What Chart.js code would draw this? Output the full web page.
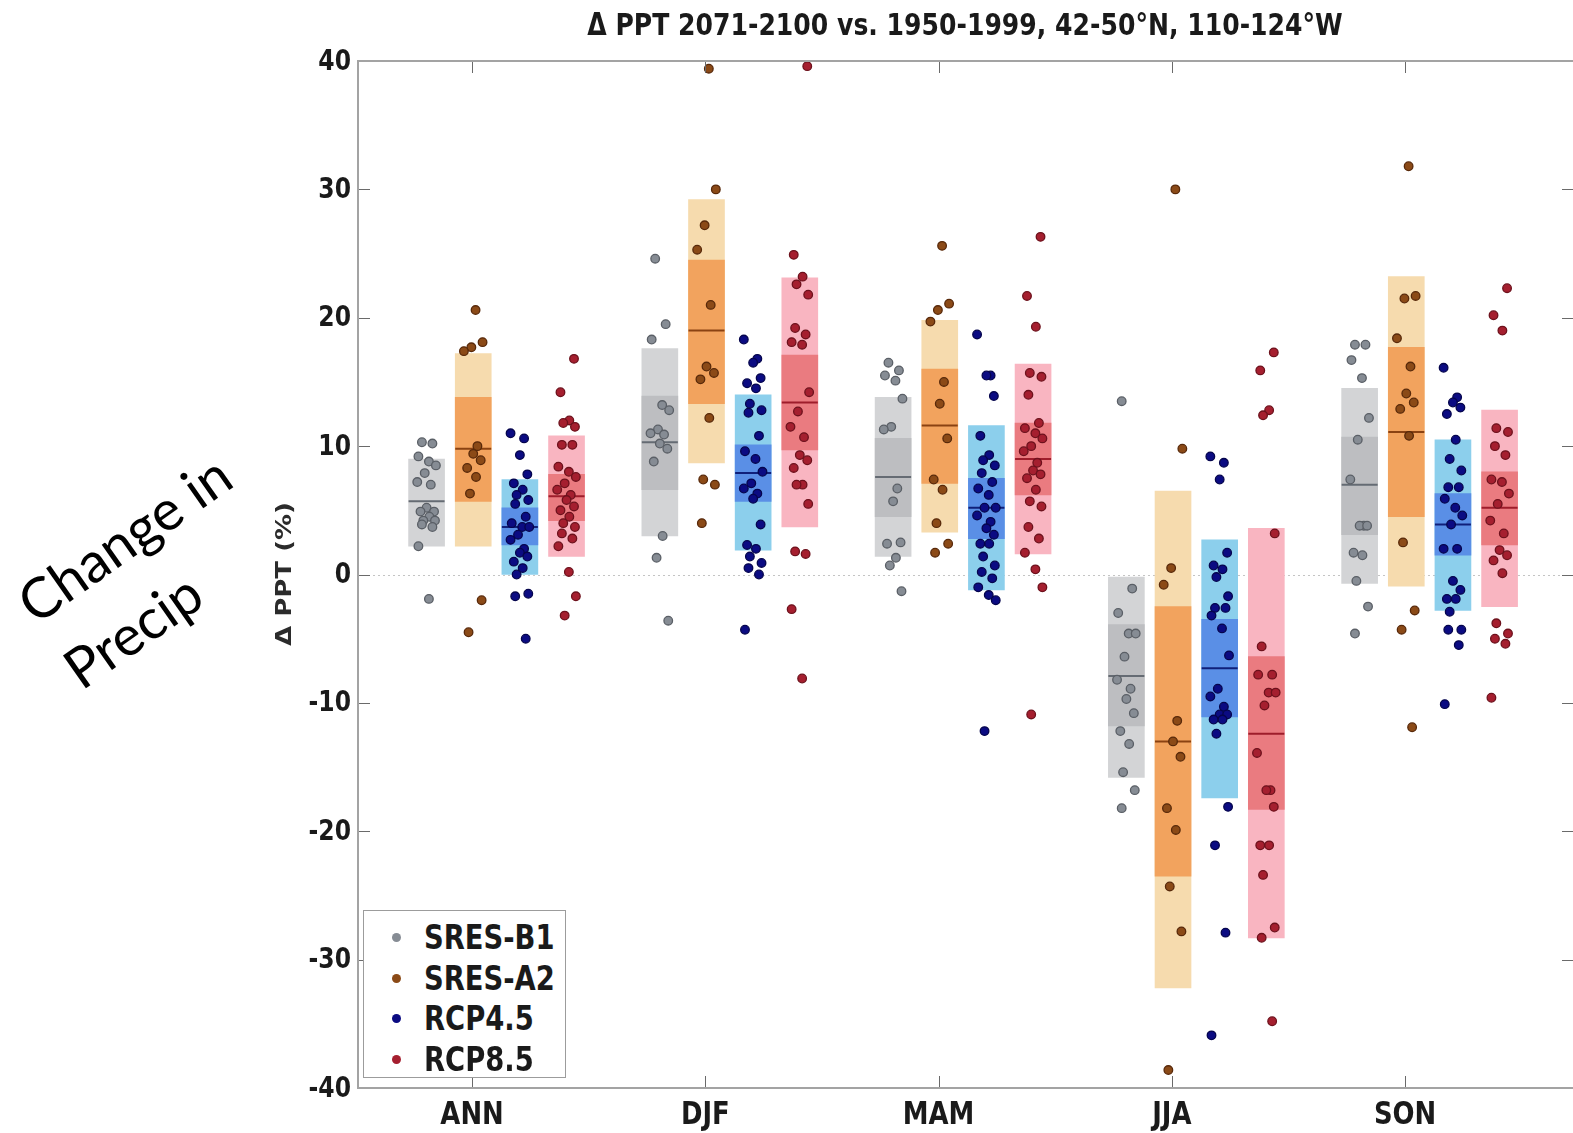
<!DOCTYPE html>
<html>
<head>
<meta charset="utf-8">
<script src="https://cdn.jsdelivr.net/npm/chart.js@4.4.1/dist/chart.umd.min.js"></script>
<style>
  html, body { margin: 0; padding: 0; background: #fff; overflow: hidden; }
  #wrap { position: relative; width: 1573px; height: 1133px; overflow: hidden; background: #fff; }
  #c { position: absolute; left: 0; top: 0; }
  .title {
    position: absolute; left: 965px; top: 9px; white-space: nowrap;
    font: bold 31px "DejaVu Sans"; line-height: 31px; color: #1a1a1a;
    transform: translateX(-50%) scaleX(0.81);
  }
  .ylab {
    position: absolute; left: 284px; top: 574px; white-space: nowrap;
    font: bold 26px "DejaVu Sans"; line-height: 26px; color: #2b2b2b;
    transform: translate(-50%, -50%) rotate(-90deg) scaleY(0.81);
  }
  .note {
    position: absolute; left: 147px; top: 571px; white-space: pre;
    font: 56px Lato, "Open Sans", sans-serif; line-height: 80px; color: #000;
    text-align: left; transform: translate(-50%, -50%) rotate(-35deg);
  }
  .legend {
    position: absolute; left: 363px; top: 910px; width: 201px; height: 166px;
    border: 1.5px solid #9c9c9c; background: #fff;
  }
  .legend .row { position: absolute; left: 0; height: 40px; width: 200px; }
  .legend .dot {
    position: absolute; left: 28px; top: 15px; width: 9px; height: 9px; border-radius: 50%;
  }
  .legend .txt {
    position: absolute; left: 60px; top: 0; white-space: nowrap;
    font: bold 33px "DejaVu Sans"; line-height: 40px; color: #1a1a1a;
    transform-origin: left center; transform: scaleX(0.83);
  }
</style>
</head>
<body>
<div id="wrap">
  <canvas id="c" width="1580" height="1133"></canvas>
  <div class="title">Δ PPT 2071-2100 vs. 1950-1999, 42-50°N, 110-124°W</div>
  <div class="ylab">Δ PPT (%)</div>
  <div class="note">Change in
Precip</div>
  <div class="legend" id="legend"></div>
</div>
<script>
// ---- categories and series ----
const seasons = ['ANN', 'DJF', 'MAM', 'JJA', 'SON'];
const scenarios = ['SRES-B1', 'SRES-A2', 'RCP4.5', 'RCP8.5'];
const yTicks = [-40, -30, -20, -10, 0, 10, 20, 30, 40];

// model spread ranges per season (ANN, DJF, MAM, JJA, SON): [low, high]
const b1Outer = [[2.2, 9.0], [3.0, 17.6], [1.4, 13.8], [-15.8, -0.2], [-0.7, 14.5]];
const b1Inner = [null, [6.6, 13.9], [4.5, 10.6], [-11.8, -3.9], [3.1, 10.7]];
const b1Median = [5.7, 10.3, 7.6, -7.9, 7.0];

const a2Outer = [[2.2, 17.2], [8.7, 29.2], [3.3, 19.8], [-32.2, 6.5], [-0.9, 23.2]];
const a2Inner = [[5.7, 13.8], [13.3, 24.5], [7.1, 16.0], [-23.5, -2.5], [4.5, 17.7]];
const a2Median = [9.8, 19.0, 11.6, -13.0, 11.1];

const r45Outer = [[0.0, 7.4], [1.9, 14.0], [-1.2, 11.6], [-17.4, 2.7], [-2.8, 10.5]];
const r45Inner = [[2.3, 5.2], [5.7, 10.1], [2.8, 7.5], [-11.1, -3.5], [1.5, 6.3]];
const r45Median = [3.7, 7.9, 5.2, -7.3, 3.9];

const r85Outer = [[1.4, 10.8], [3.7, 23.1], [1.6, 16.4], [-28.3, 3.6], [-2.5, 12.8]];
const r85Inner = [[4.2, 7.8], [9.7, 17.1], [6.2, 11.8], [-18.3, -6.4], [2.3, 8.0]];
const r85Median = [6.1, 13.4, 9.0, -12.4, 5.2];

// individual model changes (%), one list per season
const b1Models = [
  [10.3, 10.2, 9.2, 8.8, 8.5, 7.9, 7.2, 7.0, 5.2, 4.9, 4.9, 4.5, 4.2, 4.2, 3.9, 3.7, 2.2, -1.9],
  [24.6, 19.5, 18.3, 13.2, 12.8, 11.3, 11.0, 10.9, 10.2, 9.8, 8.8, 3.0, 1.3, -3.6],
  [16.5, 15.9, 15.5, 15.1, 13.7, 11.5, 11.3, 6.7, 5.7, 2.5, 2.4, 1.3, 0.7, -1.3],
  [13.5, -1.1, -3.0, -4.6, -4.6, -6.4, -8.2, -8.9, -9.7, -10.8, -12.2, -13.2, -15.4, -16.8, -18.2],
  [17.9, 17.9, 16.7, 15.3, 12.2, 10.5, 7.4, 3.8, 3.8, 3.8, 1.7, 1.5, -0.5, -2.5, -4.6]
];
const a2Models = [
  [20.6, 18.1, 17.7, 17.4, 10.0, 9.4, 8.9, 8.3, 7.6, 6.3, -2.0, -4.5],
  [39.4, 30.0, 27.2, 25.3, 21.0, 16.2, 15.7, 15.2, 12.2, 7.4, 7.0, 4.0],
  [25.6, 21.1, 20.6, 19.7, 15.0, 13.3, 10.6, 7.4, 6.6, 4.0, 2.4, 1.7],
  [30.0, 9.8, 0.5, -0.8, -11.4, -13.0, -14.2, -18.2, -19.9, -24.3, -27.8, -38.6],
  [31.8, 21.7, 21.5, 18.4, 16.2, 14.1, 13.4, 12.9, 10.8, 2.5, -2.8, -4.3, -11.9]
];
const r45Models = [
  [11.0, 10.6, 9.3, 7.8, 7.1, 6.6, 6.2, 5.8, 5.5, 4.5, 4.0, 3.7, 3.7, 3.1, 2.7, 2.0, 1.7, 1.4, 1.0, 0.5, 0.0, -1.5, -1.7, -5.0],
  [18.3, 16.8, 16.5, 15.3, 14.9, 14.5, 13.3, 12.8, 12.6, 10.8, 9.6, 9.0, 8.0, 7.1, 6.7, 6.3, 5.9, 3.9, 2.3, 2.0, 1.4, 0.9, 0.5, 0.0, -4.3],
  [18.7, 15.5, 15.5, 13.9, 10.8, 9.3, 8.9, 8.5, 7.9, 7.2, 6.7, 6.2, 5.2, 5.2, 4.6, 4.1, 3.6, 3.1, 2.4, 2.4, 1.4, 0.7, 0.2, -0.3, -1.0, -1.6, -2.0, -12.2],
  [9.2, 8.7, 7.4, 1.7, 0.7, 0.4, -0.2, -1.7, -2.6, -2.6, -3.2, -4.2, -6.3, -8.9, -9.5, -10.3, -10.9, -10.9, -11.3, -11.3, -12.4, -18.1, -21.1, -27.9, -35.9],
  [16.1, 13.8, 13.4, 13.0, 12.5, 10.5, 9.0, 8.1, 6.8, 6.8, 5.9, 5.2, 4.6, 3.9, 2.0, 2.0, -0.5, -1.2, -1.9, -1.9, -2.9, -4.3, -4.3, -5.5, -10.1]
];
const r85Models = [
  [16.8, 14.2, 12.0, 11.8, 11.5, 10.1, 10.1, 8.4, 8.0, 7.6, 7.1, 6.6, 6.2, 5.8, 5.3, 5.0, 4.5, 4.0, 3.7, 3.2, 2.8, 2.2, 0.2, -1.7, -3.2],
  [39.6, 24.9, 23.2, 22.6, 21.8, 19.2, 18.7, 18.1, 17.9, 14.2, 12.7, 11.5, 10.7, 9.3, 8.9, 8.3, 7.0, 7.0, 5.5, 1.8, 1.6, -2.7, -8.1],
  [26.3, 21.7, 19.3, 15.7, 15.4, 14.0, 11.8, 11.4, 11.0, 10.6, 10.0, 9.6, 8.7, 8.1, 7.8, 7.5, 6.6, 5.7, 5.3, 3.7, 2.8, 1.7, 0.4, -1.0, -10.9],
  [17.3, 15.9, 12.8, 12.4, 3.2, -5.6, -7.8, -7.8, -9.2, -9.2, -10.2, -13.9, -16.8, -16.8, -18.1, -21.1, -21.1, -23.4, -27.5, -28.3, -34.8],
  [22.3, 20.2, 19.0, 11.4, 11.1, 10.0, 9.3, 7.4, 7.2, 6.3, 5.5, 4.2, 3.2, 1.9, 1.5, 1.1, 0.1, -3.8, -4.6, -5.0, -5.4, -9.6]
];

// ---- appearance ----
const styles = [
  { outer: '#d3d4d6', inner: '#bdbec1', median: '#656b73', dot: '#868c94', dotEdge: '#5a5f66' },
  { outer: '#f6dbae', inner: '#f2a35e', median: '#8a4212', dot: '#8b4a17', dotEdge: '#58290a' },
  { outer: '#8ccfec', inner: '#5a8fe6', median: '#10207a', dot: '#0b0b82', dotEdge: '#05054d' },
  { outer: '#f9b5c1', inner: '#ea7b80', median: '#9e1d2b', dot: '#a51f2f', dotEdge: '#6d111c' }
];
const slotOffset = [-0.195, 0.005, 0.205, 0.405];     // position of each scenario inside a season
const spread = [-0.02, 0.025, -0.035, 0.01, 0.04, -0.008, -0.04, 0.018, 0.0, 0.032, -0.026, 0.012, -0.014, 0.036];
const SQUISH = 0.81;

const outers = [b1Outer, a2Outer, r45Outer, r85Outer];
const inners = [b1Inner, a2Inner, r45Inner, r85Inner];
const medians = [b1Median, a2Median, r45Median, r85Median];
const models = [b1Models, a2Models, r45Models, r85Models];

const datasets = [];
scenarios.forEach((name, s) => {
  const st = styles[s];
  const pos = i => i + slotOffset[s];
  datasets.push({
    type: 'bar', label: name + ' range', order: 4,
    data: outers[s].map((r, i) => ({ x: pos(i), y: r })),
    backgroundColor: st.outer, borderWidth: 0, grouped: false,
    barPercentage: 1, categoryPercentage: 1, maxBarThickness: 36
  });
  datasets.push({
    type: 'bar', label: name + ' core', order: 3,
    data: inners[s].map((r, i) => r ? { x: pos(i), y: r } : null).filter(Boolean),
    backgroundColor: st.inner, borderWidth: 0, grouped: false,
    barPercentage: 1, categoryPercentage: 1, maxBarThickness: 36
  });
  datasets.push({
    type: 'scatter', label: name + ' median', order: 2,
    data: medians[s].map((m, i) => ({ x: pos(i), y: m })),
    pointStyle: 'line', pointRadius: 18, borderWidth: 2, borderColor: st.median,
    pointBorderColor: st.median, pointHoverRadius: 18
  });
  const pts = [];
  models[s].forEach((vals, i) => {
    vals.forEach((v, k) => pts.push({ x: pos(i) + spread[(k + s * 3) % spread.length], y: v }));
  });
  datasets.push({
    type: 'scatter', label: name, order: 1,
    data: pts, pointRadius: 4.3, pointBorderWidth: 1.3,
    pointBackgroundColor: st.dot, pointBorderColor: st.dotEdge, clip: false
  });
});

function squishText(ctx, text, x, y, align, font, color) {
  ctx.save();
  ctx.font = font; ctx.fillStyle = color;
  ctx.textAlign = align; ctx.textBaseline = 'middle';
  ctx.translate(x, y); ctx.scale(SQUISH, 1);
  ctx.fillText(text, 0, 0);
  ctx.restore();
}

// zero line, boxed frame with inward ticks, and axis labels
const framePlugin = {
  id: 'frame',
  beforeDatasetsDraw(chart) {
    const { ctx, chartArea: a, scales: { y } } = chart;
    const y0 = Math.round(y.getPixelForValue(0)) + 0.5;
    ctx.save();
    ctx.strokeStyle = '#c4c4c4'; ctx.lineWidth = 1; ctx.setLineDash([2, 3]);
    ctx.beginPath(); ctx.moveTo(a.left, y0); ctx.lineTo(a.right, y0); ctx.stroke();
    ctx.restore();
  },
  afterDraw(chart) {
    const { ctx, chartArea: a, scales: { x, y } } = chart;
    const L = 12;
    ctx.save();
    ctx.strokeStyle = '#6a6a6a'; ctx.lineWidth = 1;
    ctx.beginPath();
    x.ticks.forEach(t => {
      const px = Math.round(x.getPixelForValue(t.value)) + 0.5;
      ctx.moveTo(px, a.top); ctx.lineTo(px, a.top + L);
      ctx.moveTo(px, a.bottom); ctx.lineTo(px, a.bottom - L);
    });
    y.ticks.forEach(t => {
      const py = Math.round(y.getPixelForValue(t.value)) + 0.5;
      ctx.moveTo(a.left, py); ctx.lineTo(a.left + L, py);
      ctx.moveTo(a.right, py); ctx.lineTo(a.right - L, py);
    });
    ctx.stroke();
    ctx.strokeStyle = '#a3a3a3'; ctx.lineWidth = 2;
    ctx.strokeRect(a.left, a.top, a.right - a.left, a.bottom - a.top);
    ctx.restore();

    y.ticks.forEach(t => {
      squishText(ctx, String(t.value), a.left - 7, y.getPixelForValue(t.value) + 1,
        'right', 'bold 29px "DejaVu Sans"', '#1a1a1a');
    });
    x.ticks.forEach(t => {
      squishText(ctx, seasons[t.value], x.getPixelForValue(t.value), a.bottom + 28,
        'center', 'bold 32px "DejaVu Sans"', '#1a1a1a');
    });
  }
};

new Chart(document.getElementById('c'), {
  type: 'bar',
  data: { datasets },
  options: {
    responsive: false,
    animation: false,
    events: [],
    layout: { autoPadding: false, padding: { top: 61, right: 6, left: 0, bottom: 0 } },
    plugins: { legend: { display: false }, tooltip: { enabled: false }, title: { display: false } },
    scales: {
      x: {
        type: 'linear', min: -0.489, max: 4.724, offset: false,
        grid: { display: false }, border: { display: false },
        ticks: { display: false },
        afterBuildTicks: s => { s.ticks = seasons.map((_, i) => ({ value: i })); },
        afterFit: s => { s.height = 45; }
      },
      y: {
        type: 'linear', min: -40, max: 40,
        grid: { display: false }, border: { display: false },
        ticks: { display: false, stepSize: 10 },
        afterBuildTicks: s => { s.ticks = yTicks.map(v => ({ value: v })); },
        afterFit: s => { s.width = 358; }
      }
    }
  },
  plugins: [framePlugin]
});

// legend
const legend = document.getElementById('legend');
scenarios.forEach((name, s) => {
  const row = document.createElement('div');
  row.className = 'row';
  row.style.top = (7 + s * 40.7) + 'px';
  const dot = document.createElement('div');
  dot.className = 'dot';
  dot.style.background = styles[s].dot;
  const txt = document.createElement('div');
  txt.className = 'txt';
  txt.textContent = name;
  row.appendChild(dot); row.appendChild(txt);
  legend.appendChild(row);
});
</script>
</body>
</html>
